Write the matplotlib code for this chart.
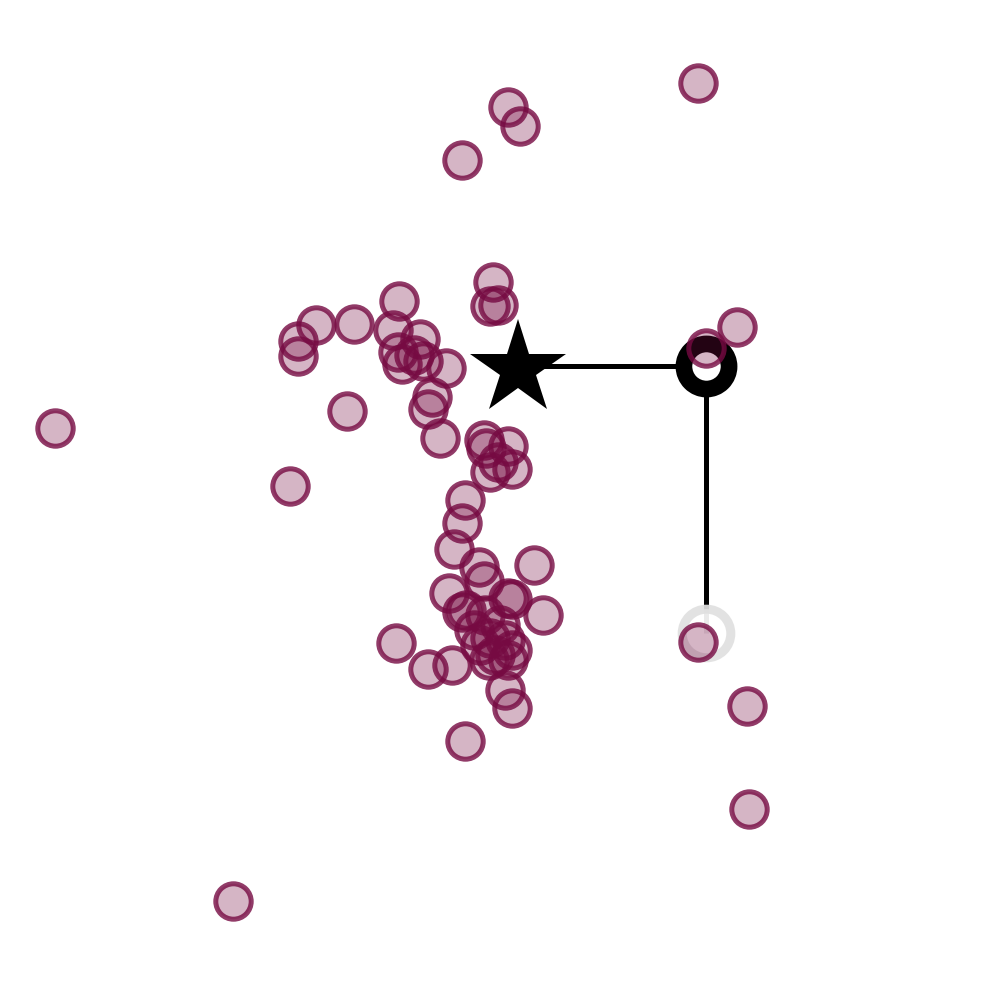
import matplotlib.pyplot as plt
from matplotlib.colors import to_rgba

# scatter points (x, y)
pts_x = [698, 508, 520, 462, 493, 490, 498, 399, 316, 354, 298, 298, 393, 420,
         398, 414, 402, 423, 446, 432, 428, 347, 440, 55, 290, 737, 706, 484,
         486, 508, 498, 512, 490, 465, 462, 454, 534, 479, 484, 449, 508, 512,
         543, 462, 466, 485, 500, 474, 490, 480, 505, 495, 512, 508, 489, 396,
         428, 452, 505, 512, 465, 698, 747, 749, 233]
pts_y = [917, 893, 874, 840, 718, 694, 695, 699, 675, 676, 659, 644, 670, 661,
         648, 645, 636, 639, 632, 603, 591, 589, 562, 572, 514, 673, 652, 560,
         552, 554, 538, 531, 528, 500, 477, 451, 435, 433, 419, 407, 402, 401,
         385, 388, 390, 385, 375, 370, 362, 355, 360, 345, 350, 340, 340, 357,
         331, 335, 310, 292, 259, 358, 294, 191, 99]

start = (518, 634)   # star
corner = (706, 634)  # black ring
end = (706, 367)     # faded ring

purple = '#760a42'

fig = plt.figure(figsize=(10, 10), dpi=100)
ax = fig.add_axes([0, 0, 1, 1])

ax.plot([start[0], corner[0], end[0]], [start[1], corner[1], end[1]],
        color='black', lw=3.6, solid_capstyle='butt', zorder=1)
ax.plot(*end, marker='o', ms=35, mfc='white', mec='#e0e0e0', mew=6.5, alpha=0.92, zorder=2)
ax.plot(*corner, marker='o', ms=32.5, mfc='white', mec='black', mew=12, zorder=2)
ax.plot(start[0], start[1] - 3, marker='*', ms=72, color='black', mew=0, zorder=2)

ax.scatter(pts_x, pts_y, s=650, marker='o', lw=3.6,
           facecolor=to_rgba(purple, 0.3), edgecolor=to_rgba(purple, 0.8), zorder=3)

ax.set_xlim(0, 1000)
ax.set_ylim(0, 1000)
ax.axis('off')

fig.savefig('out.png', dpi=100, facecolor='white')
